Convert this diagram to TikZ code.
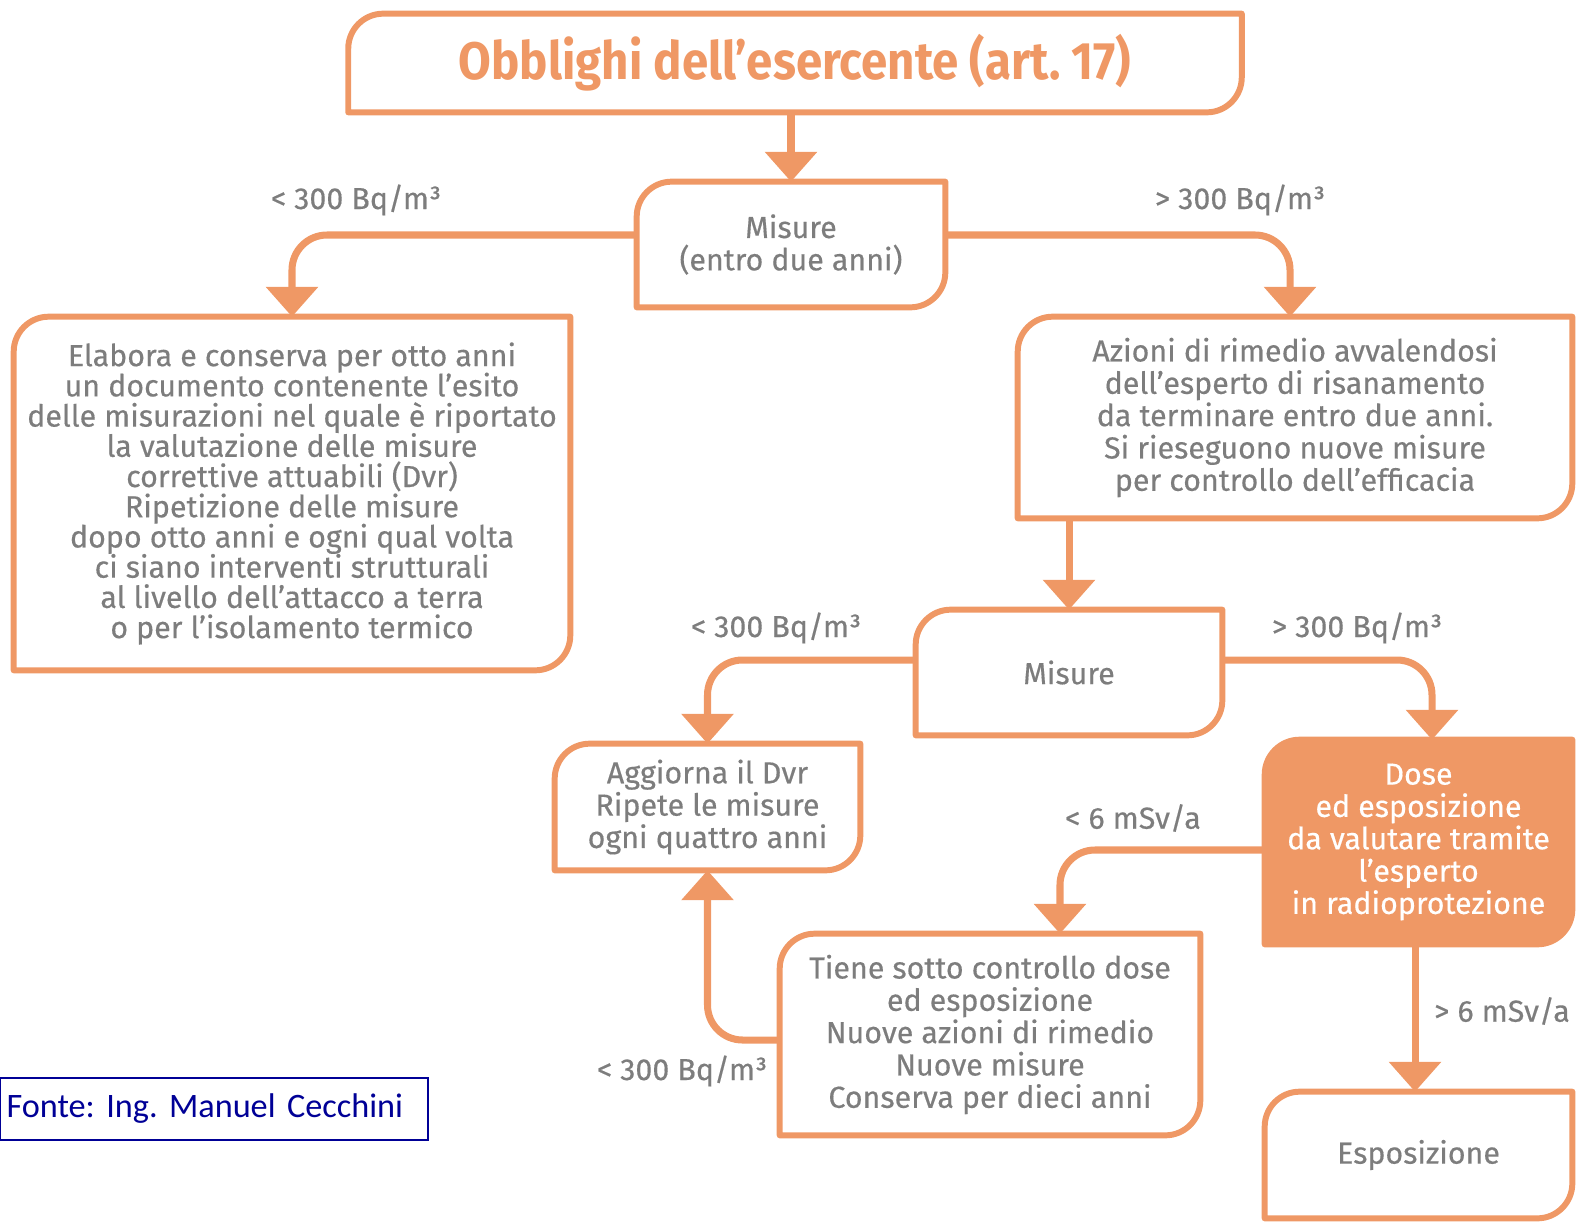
\documentclass[tikz,border=0pt]{standalone}
\usepackage{fontspec}
\setmainfont{Fira Sans}[FakeBold=0.4]
\newfontfamily\titlefont{Fira Sans}[FakeStretch=0.9]
\newfontfamily\srcfont{Carlito}
\usetikzlibrary{arrows.meta,backgrounds}

\definecolor{flowor}{RGB}{239,152,101}
\definecolor{txtgray}{RGB}{125,125,125}
\definecolor{srcblue}{RGB}{0,0,150}

% box with two rounded corners (top left, bottom right)
\newlength{\leafr}\setlength{\leafr}{0.7cm}
\newcommand{\leafbox}[2]{%
  \draw[#2] (#1.south west) -- ([yshift=-\leafr]#1.north west)
    arc[start angle=180,end angle=90,radius=\leafr] -- (#1.north east)
    -- ([yshift=\leafr]#1.south east)
    arc[start angle=0,end angle=-90,radius=\leafr] -- cycle;}

\begin{document}
\frenchspacing
\begin{tikzpicture}[
  x=0.02cm, y=-0.02cm,
  every node/.style={font=\fontsize{17.3}{18.4}\selectfont, text=txtgray},
  box/.style={align=center, inner sep=0pt},
  frame/.style={draw=flowor, line width=3.4pt, line join=round},
  flow/.style={draw=flowor, line width=4pt, rounded corners=0.7cm,
    -{Triangle[width=29pt,length=17pt]}}
]
\useasboundingbox (0,0) rectangle (1578,1224);

% boxes
\node[box, minimum width=17.86cm, minimum height=1.96cm, text=flowor,
  font=\titlefont\bfseries\fontsize{30}{34}\selectfont] (title) at (795,63)
  {Obblighi dell’esercente (art. 17)};
\node[box, minimum width=6.16cm, minimum height=2.5cm] (mis1) at (791,244.5)
  {Misure\\(entro due anni)};
\node[box, minimum width=11.12cm, minimum height=7.06cm,
  font=\fontsize{17.3}{17.2}\selectfont] (elab) at (292,493.5)
  {Elabora e conserva per otto anni\\
   un documento contenente l’esito\\
   delle misurazioni nel quale è riportato\\
   la valutazione delle misure\\
   correttive attuabili (Dvr)\\
   Ripetizione delle misure\\
   dopo otto anni e ogni qual volta\\
   ci siano interventi strutturali\\
   al livello dell’attacco a terra\\
   o per l’isolamento termico};
\node[box, minimum width=11.08cm, minimum height=4.02cm] (rimedio) at (1295,417.5)
  {Azioni di rimedio avvalendosi\\
   dell’esperto di risanamento\\
   da terminare entro due anni.\\
   Si rieseguono nuove misure\\
   per controllo dell’efficacia};
\node[box, minimum width=6.12cm, minimum height=2.5cm] (mis2) at (1069,672.5) {Misure};
\node[box, minimum width=6.1cm, minimum height=2.52cm] (aggiorna) at (707.5,807)
  {Aggiorna il Dvr\\Ripete le misure\\ogni quattro anni};
\node[box, minimum width=6.14cm, minimum height=4.08cm, text=white] (dose) at (1418.5,842)
  {Dose\\ed esposizione\\da valutare tramite\\l’esperto\\in radioprotezione};
\node[box, minimum width=8.4cm, minimum height=4.02cm] (tiene) at (990,1034.5)
  {Tiene sotto controllo dose\\ed esposizione\\Nuove azioni di rimedio\\
   Nuove misure\\Conserva per dieci anni};
\node[box, minimum width=6.14cm, minimum height=2.52cm] (expo) at (1418.5,1155) {Esposizione};

% frames behind the text
\begin{scope}[on background layer]
  \foreach \n in {title,mis1,elab,rimedio,mis2,aggiorna,tiene,expo}
    \leafbox{\n}{frame};
  \leafbox{dose}{frame, fill=flowor};
\end{scope}

% labels
\node (lt1) at (356,200) {< 300 Bq/m³};
\node (gt1) at (1240,200) {> 300 Bq/m³};
\node (lt2) at (776,628) {< 300 Bq/m³};
\node (gt2) at (1357,628) {> 300 Bq/m³};
\node (lt6) at (1133,818) {< 6 mSv/a};
\node (lt3) at (682,1071) {< 300 Bq/m³};
\node (gt6) at (1502,1011) {> 6 mSv/a};

% connectors
\draw[flow] (mis1.north |- title.south) -- (mis1.north);
\draw[flow] ([yshift=0.19cm]mis1.west) -| (elab.north);
\draw[flow] ([yshift=0.19cm]mis1.east) -| ([xshift=-0.1cm]rimedio.north);
\draw[flow] (rimedio.south -| mis2.north) -- (mis2.north);
\draw[flow] ([yshift=0.25cm]mis2.west) -| (aggiorna.north);
\draw[flow] ([yshift=0.25cm]mis2.east) -| ([xshift=0.27cm]dose.north);
\draw[flow] ([yshift=-0.16cm]dose.west) -| ([xshift=1.4cm]tiene.north);
\draw[flow] ([yshift=-0.11cm]tiene.west) -| (aggiorna.south);
\draw[flow] ([xshift=-0.07cm]dose.south) -- ([xshift=-0.07cm]expo.north);

% source
\node[draw=srcblue, line width=1.1pt, text=srcblue, align=left,
  font=\srcfont\fontsize{19.5}{21}\selectfont, text width=8.3cm, inner xsep=0.13cm,
  minimum height=1.24cm] (fonte) at (214,1109) {Fonte: Ing. Manuel Cecchini};
\end{tikzpicture}
\end{document}
